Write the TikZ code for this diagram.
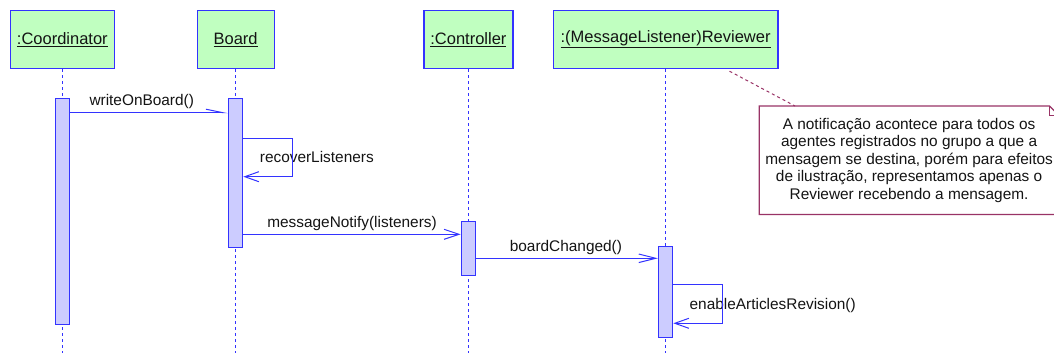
\documentclass[tikz,border=0pt]{standalone}
\usepackage{fontspec}
\setmainfont{Liberation Sans}
\usetikzlibrary{arrows.meta}

\definecolor{headfill}{RGB}{192,255,192}
\definecolor{actfill}{RGB}{204,204,255}
\definecolor{umlblue}{RGB}{51,51,255}
\definecolor{notered}{RGB}{153,51,102}
\definecolor{inkcol}{RGB}{20,20,20}

\tikzset{
  head/.style={draw=umlblue, fill=headfill, line width=1.2pt, inner sep=0pt,
    anchor=north west, minimum height=58pt, text=inkcol,
    font=\fontsize{16.5}{18}\selectfont},
  life/.style={draw=umlblue, line width=1pt, dash pattern=on 3pt off 3pt},
  act/.style={draw=umlblue, fill=actfill, line width=1pt, inner sep=0pt,
    minimum width=14.5pt, anchor=north},
  msg/.style={draw=umlblue, line width=1pt},
  lbl/.style={above, inner sep=3.5pt, text=inkcol,
    font=\fontsize{15.4}{17.5}\selectfont},
  looplbl/.style={inner sep=0pt, text=inkcol,
    font=\fontsize{15.4}{17.5}\selectfont},
  notebox/.style={inner sep=0pt, anchor=north west, align=center, text=inkcol,
    font=\fontsize{15.4}{17.5}\selectfont},
  noteline/.style={draw=notered, line width=1.2pt},
  notelink/.style={draw=notered, line width=1pt, dash pattern=on 3pt off 3pt},
}

\begin{document}
\begin{tikzpicture}[x=1pt, y=-1pt]
\clip (0,0) rectangle (1054,353);
\fill[white] (0,0) rectangle (1054,353);

% object heads
\node[head, minimum width=104.5pt] (co) at (9.5,10)   {\underline{:Coordinator}};
\node[head, minimum width=77pt]    (bo) at (196.5,10) {\underline{Board}};
\node[head, minimum width=89pt]    (ct) at (423.3,10) {\underline{:Controller}};
\node[head, minimum width=224.6pt] (rv) at (552.7,10) {\underline{:(MessageListener)Reviewer}};

% lifelines
\foreach \o in {co,bo,ct,rv}
  \draw[life] (\o.south) -- (\o.south |- 0,353);

% activation bars
\node[act, minimum height=226pt]  (ca) at (co.south |- 0,98.3)  {};
\node[act, minimum height=149pt]  (ba) at (bo.south |- 0,98.3)  {};
\node[act, minimum height=54.6pt] (cc) at (ct.south |- 0,220.7) {};
\node[act, minimum height=90.4pt] (ra) at (rv.south |- 0,246.3) {};

% messages
\draw[msg, -{Straight Barb[harpoon, length=17pt, width=7pt]}]
  (ca.east |- 0,112.7) -- node[lbl, pos=0.454] {writeOnBoard()} (ba.west |- 0,112.7);

\node[looplbl] (rl) at (316.8,157.3) {recoverListeners};
\draw[msg, -{Straight Barb[length=14pt, width=10pt]}]
  (ba.east |- 0,138) -- ++(49.5,0) |- (ba.east |- 0,176.7);

\draw[msg, -{Straight Barb[length=15pt, width=10pt]}]
  (ba.east |- 0,234.3) -- node[lbl, pos=0.5] {messageNotify(listeners)} (cc.west |- 0,234.3);

\draw[msg, -{Straight Barb[length=17pt, width=8.5pt]}]
  (cc.east |- 0,258.3) -- node[lbl, pos=0.494] {boardChanged()} (ra.west |- 0,258.3);

\node[looplbl] (el) at (772.7,305.7) {enableArticlesRevision()};
\draw[msg, -{Straight Barb[length=14pt, width=10pt]}]
  (ra.east |- 0,284.7) -- ++(49.3,0) |- (ra.east |- 0,323.3);

% comment note
\node[notebox, minimum width=299.2pt, minimum height=108pt] (nt) at (759.3,106)
  {A notificação acontece para todos os\\
   agentes registrados no grupo a que a\\
   mensagem se destina, porém para efeitos\\
   de ilustração, representamos apenas o\\
   Reviewer recebendo a mensagem.};
\draw[noteline] (nt.north west) -- ([xshift=-9.5pt]nt.north east)
  -- ([yshift=-9.5pt]nt.north east) -- (nt.south east) -- (nt.south west) -- cycle;
\draw[noteline] ([xshift=-9.5pt]nt.north east) -- ([xshift=-9.5pt, yshift=-9.5pt]nt.north east)
  -- ([yshift=-9.5pt]nt.north east);
\draw[notelink] ([xshift=-49pt, yshift=-2pt]rv.south east) -- ([xshift=35.7pt]nt.north west);
\end{tikzpicture}
\end{document}
